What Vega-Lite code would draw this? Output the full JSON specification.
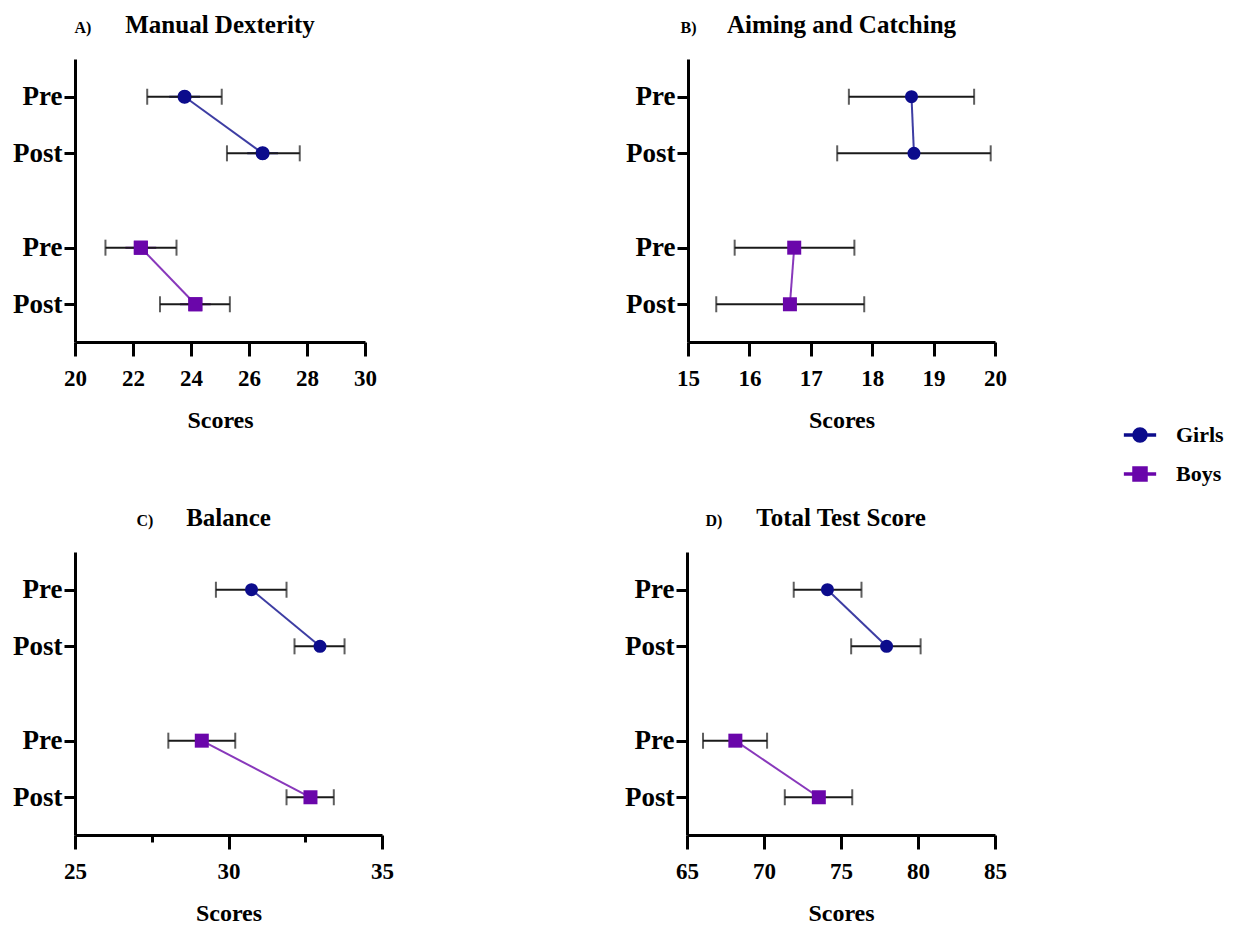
{
  "$schema": "https://vega.github.io/schema/vega-lite/v6.json",
  "padding": {"left": 12, "top": 13, "right": 5, "bottom": 5},
  "background": "white",
  "datasets": {
    "d": [
      {"panel": "A", "sex": "Girls", "row": "Girls Pre", "mean": 23.78, "lo": 22.49, "hi": 25.06},
      {"panel": "A", "sex": "Girls", "row": "Girls Post", "mean": 26.47, "lo": 25.24, "hi": 27.75},
      {"panel": "A", "sex": "Boys", "row": "Boys Pre", "mean": 22.27, "lo": 21.05, "hi": 23.5},
      {"panel": "A", "sex": "Boys", "row": "Boys Post", "mean": 24.15, "lo": 22.93, "hi": 25.34},
      {"panel": "B", "sex": "Girls", "row": "Girls Pre", "mean": 18.64, "lo": 17.62, "hi": 19.66},
      {"panel": "B", "sex": "Girls", "row": "Girls Post", "mean": 18.68, "lo": 17.43, "hi": 19.93},
      {"panel": "B", "sex": "Boys", "row": "Boys Pre", "mean": 16.73, "lo": 15.76, "hi": 17.71},
      {"panel": "B", "sex": "Boys", "row": "Boys Post", "mean": 16.66, "lo": 15.46, "hi": 17.87},
      {"panel": "C", "sex": "Girls", "row": "Girls Pre", "mean": 30.75, "lo": 29.59, "hi": 31.89},
      {"panel": "C", "sex": "Girls", "row": "Girls Post", "mean": 32.98, "lo": 32.15, "hi": 33.78},
      {"panel": "C", "sex": "Boys", "row": "Boys Pre", "mean": 29.13, "lo": 28.04, "hi": 30.22},
      {"panel": "C", "sex": "Boys", "row": "Boys Post", "mean": 32.67, "lo": 31.89, "hi": 33.43},
      {"panel": "D", "sex": "Girls", "row": "Girls Pre", "mean": 74.12, "lo": 71.93, "hi": 76.33},
      {"panel": "D", "sex": "Girls", "row": "Girls Post", "mean": 77.96, "lo": 75.66, "hi": 80.17},
      {"panel": "D", "sex": "Boys", "row": "Boys Pre", "mean": 68.14, "lo": 66.04, "hi": 70.2},
      {"panel": "D", "sex": "Boys", "row": "Boys Post", "mean": 73.56, "lo": 71.35, "hi": 75.73}
    ]
  },
  "vconcat": [
    {
      "hconcat": [
        {
          "title": {"text": "A)", "fontSize": 16, "anchor": "start", "frame": "bounds", "baseline": "alphabetic", "dx": 62, "offset": -36},
          "vconcat": [
            {
              "width": 290, "height": 283,
              "title": {"text": "Manual Dexterity"},
              "data": {"name": "d"},
              "transform": [{"filter": "datum.panel == 'A'"}],
              "layer": [
                {
                  "mark": {"type": "point", "filled": true, "size": 196, "opacity": 1},
                  "encoding": {
                    "x": {"field": "mean", "type": "quantitative"},
                    "y": {"field": "row", "type": "nominal"},
                    "color": {"field": "sex", "type": "nominal", "title": null, "scale": {"domain": ["Girls", "Boys"], "range": ["#0c0c8c", "#6a06aa"]}},
                    "shape": {"field": "sex", "type": "nominal", "title": null, "scale": {"domain": ["Girls", "Boys"], "range": ["M-2.2,-0.14H2.2V0.14H-2.2Z M-1,0A1,1 0 1,1 1,0A1,1 0 1,1 -1,0Z", "M-2.2,-0.14H2.2V0.14H-2.2Z M-1,-1H1V1H-1Z"]}}
                  }
                },
                {
                  "mark": {"type": "errorbar", "ticks": {"size": 16, "thickness": 2, "color": "#1a1a1a"}, "color": "#1a1a1a", "thickness": 2},
                  "encoding": {
                    "x": {"field": "lo", "type": "quantitative", "title": "Scores",
                      "scale": {"domain": [20, 30], "nice": false, "zero": false},
                      "axis": {"values": [20, 21, 22, 23, 24, 25, 26, 27, 28, 29, 30],
                        "labelExpr": "datum.value % 2 == 1 ? '' : datum.label",
                        "tickSize": {"condition": {"test": "datum.value % 2 == 1", "value": 7}, "value": 14}}},
                    "x2": {"field": "hi"},
                    "y": {"field": "row", "type": "nominal", "title": null,
                      "scale": {"type": "point", "domain": ["_a", "Girls Pre", "_1", "_2", "Girls Post", "_3", "_4", "_5", "_6", "Boys Pre", "_7", "_8", "Boys Post", "_z"], "padding": 1},
                      "axis": {"values": ["Girls Pre", "Girls Post", "Boys Pre", "Boys Post"], "labelExpr": "split(datum.label, ' ')[1]"}}
                  }
                },
                {
                  "mark": {"type": "line", "strokeWidth": 2, "opacity": 0.8},
                  "encoding": {
                    "x": {"field": "mean", "type": "quantitative"},
                    "y": {"field": "row", "type": "nominal"},
                    "color": {"field": "sex", "type": "nominal", "title": null}
                  }
                },
                {
                  "transform": [{"filter": "datum.sex == 'Girls'"}],
                  "mark": {"type": "point", "filled": true, "size": 170, "opacity": 1, "shape": "circle"},
                  "encoding": {
                    "x": {"field": "mean", "type": "quantitative"},
                    "y": {"field": "row", "type": "nominal"},
                    "color": {"field": "sex", "type": "nominal", "title": null}
                  }
                },
                {
                  "transform": [{"filter": "datum.sex == 'Boys'"}],
                  "mark": {"type": "point", "filled": true, "size": 196, "opacity": 1, "shape": "square"},
                  "encoding": {
                    "x": {"field": "mean", "type": "quantitative"},
                    "y": {"field": "row", "type": "nominal"},
                    "color": {"field": "sex", "type": "nominal", "title": null}
                  }
                }
              ]
            }
          ]
        },
        {
          "title": {"text": "B)", "fontSize": 16, "anchor": "start", "frame": "bounds", "baseline": "alphabetic", "dx": 55, "offset": -36},
          "vconcat": [
            {
              "width": 307, "height": 283,
              "title": {"text": "Aiming and Catching"},
              "data": {"name": "d"},
              "transform": [{"filter": "datum.panel == 'B'"}],
              "layer": [
                {
                  "mark": {"type": "errorbar", "ticks": {"size": 16, "thickness": 2, "color": "#1a1a1a"}, "color": "#1a1a1a", "thickness": 2},
                  "encoding": {
                    "x": {"field": "lo", "type": "quantitative", "title": "Scores",
                      "scale": {"domain": [15, 20], "nice": false, "zero": false},
                      "axis": {"values": [15, 15.5, 16, 16.5, 17, 17.5, 18, 18.5, 19, 19.5, 20], "format": "d",
                        "labelExpr": "datum.value % 1 != 0 ? '' : datum.label",
                        "tickSize": {"condition": {"test": "datum.value % 1 != 0", "value": 7}, "value": 14}}},
                    "x2": {"field": "hi"},
                    "y": {"field": "row", "type": "nominal", "title": null,
                      "scale": {"type": "point", "domain": ["_a", "Girls Pre", "_1", "_2", "Girls Post", "_3", "_4", "_5", "_6", "Boys Pre", "_7", "_8", "Boys Post", "_z"], "padding": 1},
                      "axis": {"values": ["Girls Pre", "Girls Post", "Boys Pre", "Boys Post"], "labelExpr": "split(datum.label, ' ')[1]"}}
                  }
                },
                {
                  "mark": {"type": "line", "strokeWidth": 2, "opacity": 0.8},
                  "encoding": {
                    "x": {"field": "mean", "type": "quantitative"},
                    "y": {"field": "row", "type": "nominal"},
                    "color": {"field": "sex", "type": "nominal", "title": null, "scale": {"domain": ["Girls", "Boys"], "range": ["#0c0c8c", "#6a06aa"]}}
                  }
                },
                {
                  "transform": [{"filter": "datum.sex == 'Girls'"}],
                  "mark": {"type": "point", "filled": true, "size": 170, "opacity": 1, "shape": "circle"},
                  "encoding": {
                    "x": {"field": "mean", "type": "quantitative"},
                    "y": {"field": "row", "type": "nominal"},
                    "color": {"field": "sex", "type": "nominal", "title": null}
                  }
                },
                {
                  "transform": [{"filter": "datum.sex == 'Boys'"}],
                  "mark": {"type": "point", "filled": true, "size": 196, "opacity": 1, "shape": "square"},
                  "encoding": {
                    "x": {"field": "mean", "type": "quantitative"},
                    "y": {"field": "row", "type": "nominal"},
                    "color": {"field": "sex", "type": "nominal", "title": null}
                  }
                }
              ]
            }
          ]
        }
      ],
      "spacing": 248
    },
    {
      "hconcat": [
        {
          "title": {"text": "C)", "fontSize": 16, "anchor": "start", "frame": "bounds", "baseline": "alphabetic", "dx": 124, "offset": -36},
          "vconcat": [
            {
              "width": 307, "height": 283,
              "title": {"text": "Balance"},
              "data": {"name": "d"},
              "transform": [{"filter": "datum.panel == 'C'"}],
              "layer": [
                {
                  "mark": {"type": "errorbar", "ticks": {"size": 16, "thickness": 2, "color": "#1a1a1a"}, "color": "#1a1a1a", "thickness": 2},
                  "encoding": {
                    "x": {"field": "lo", "type": "quantitative", "title": "Scores",
                      "scale": {"domain": [25, 35], "nice": false, "zero": false},
                      "axis": {"values": [25, 27.5, 30, 32.5, 35], "format": "d",
                        "labelExpr": "datum.value % 5 != 0 ? '' : datum.label",
                        "tickSize": {"condition": {"test": "datum.value % 5 != 0", "value": 7}, "value": 14}}},
                    "x2": {"field": "hi"},
                    "y": {"field": "row", "type": "nominal", "title": null,
                      "scale": {"type": "point", "domain": ["_a", "Girls Pre", "_1", "_2", "Girls Post", "_3", "_4", "_5", "_6", "Boys Pre", "_7", "_8", "Boys Post", "_z"], "padding": 1},
                      "axis": {"values": ["Girls Pre", "Girls Post", "Boys Pre", "Boys Post"], "labelExpr": "split(datum.label, ' ')[1]"}}
                  }
                },
                {
                  "mark": {"type": "line", "strokeWidth": 2, "opacity": 0.8},
                  "encoding": {
                    "x": {"field": "mean", "type": "quantitative"},
                    "y": {"field": "row", "type": "nominal"},
                    "color": {"field": "sex", "type": "nominal", "title": null, "scale": {"domain": ["Girls", "Boys"], "range": ["#0c0c8c", "#6a06aa"]}}
                  }
                },
                {
                  "transform": [{"filter": "datum.sex == 'Girls'"}],
                  "mark": {"type": "point", "filled": true, "size": 170, "opacity": 1, "shape": "circle"},
                  "encoding": {
                    "x": {"field": "mean", "type": "quantitative"},
                    "y": {"field": "row", "type": "nominal"},
                    "color": {"field": "sex", "type": "nominal", "title": null}
                  }
                },
                {
                  "transform": [{"filter": "datum.sex == 'Boys'"}],
                  "mark": {"type": "point", "filled": true, "size": 196, "opacity": 1, "shape": "square"},
                  "encoding": {
                    "x": {"field": "mean", "type": "quantitative"},
                    "y": {"field": "row", "type": "nominal"},
                    "color": {"field": "sex", "type": "nominal", "title": null}
                  }
                }
              ]
            }
          ]
        },
        {
          "title": {"text": "D)", "fontSize": 16, "anchor": "start", "frame": "bounds", "baseline": "alphabetic", "dx": 81, "offset": -36},
          "vconcat": [
            {
              "width": 308, "height": 283,
              "title": {"text": "Total Test Score"},
              "data": {"name": "d"},
              "transform": [{"filter": "datum.panel == 'D'"}],
              "layer": [
                {
                  "mark": {"type": "errorbar", "ticks": {"size": 16, "thickness": 2, "color": "#1a1a1a"}, "color": "#1a1a1a", "thickness": 2},
                  "encoding": {
                    "x": {"field": "lo", "type": "quantitative", "title": "Scores",
                      "scale": {"domain": [65, 85], "nice": false, "zero": false},
                      "axis": {"values": [65, 67.5, 70, 72.5, 75, 77.5, 80, 82.5, 85], "format": "d",
                        "labelExpr": "datum.value % 5 != 0 ? '' : datum.label",
                        "tickSize": {"condition": {"test": "datum.value % 5 != 0", "value": 7}, "value": 14}}},
                    "x2": {"field": "hi"},
                    "y": {"field": "row", "type": "nominal", "title": null,
                      "scale": {"type": "point", "domain": ["_a", "Girls Pre", "_1", "_2", "Girls Post", "_3", "_4", "_5", "_6", "Boys Pre", "_7", "_8", "Boys Post", "_z"], "padding": 1},
                      "axis": {"values": ["Girls Pre", "Girls Post", "Boys Pre", "Boys Post"], "labelExpr": "split(datum.label, ' ')[1]"}}
                  }
                },
                {
                  "mark": {"type": "line", "strokeWidth": 2, "opacity": 0.8},
                  "encoding": {
                    "x": {"field": "mean", "type": "quantitative"},
                    "y": {"field": "row", "type": "nominal"},
                    "color": {"field": "sex", "type": "nominal", "title": null, "scale": {"domain": ["Girls", "Boys"], "range": ["#0c0c8c", "#6a06aa"]}}
                  }
                },
                {
                  "transform": [{"filter": "datum.sex == 'Girls'"}],
                  "mark": {"type": "point", "filled": true, "size": 170, "opacity": 1, "shape": "circle"},
                  "encoding": {
                    "x": {"field": "mean", "type": "quantitative"},
                    "y": {"field": "row", "type": "nominal"},
                    "color": {"field": "sex", "type": "nominal", "title": null}
                  }
                },
                {
                  "transform": [{"filter": "datum.sex == 'Boys'"}],
                  "mark": {"type": "point", "filled": true, "size": 196, "opacity": 1, "shape": "square"},
                  "encoding": {
                    "x": {"field": "mean", "type": "quantitative"},
                    "y": {"field": "row", "type": "nominal"},
                    "color": {"field": "sex", "type": "nominal", "title": null}
                  }
                }
              ]
            }
          ]
        }
      ],
      "spacing": 230
    }
  ],
  "spacing": 74,
  "config": {
    "font": "Liberation Serif",
    "view": {"stroke": null},
    "title": {"font": "Liberation Serif", "fontSize": 25, "fontWeight": "bold", "color": "black", "anchor": "middle", "offset": 21},
    "axis": {"grid": false, "domainColor": "black", "domainWidth": 3, "tickColor": "black", "tickWidth": 3,
      "labelFont": "Liberation Serif", "labelFontWeight": "bold", "labelColor": "black",
      "titleFont": "Liberation Serif", "titleFontWeight": "bold", "titleColor": "black", "titleFontSize": 24},
    "axisX": {"labelFontSize": 23, "labelPadding": 11, "titlePadding": 18, "labelFlush": false, "labelOverlap": false},
    "axisY": {"labelFontSize": 27, "tickSize": 11, "labelPadding": 2},
    "legend": {"orient": "none", "legendX": 1054, "legendY": 365, "labelFont": "Liberation Serif", "labelFontWeight": "bold", "labelFontSize": 22, "labelColor": "black", "symbolSize": 196, "rowPadding": 17, "labelOffset": 25}
  }
}
